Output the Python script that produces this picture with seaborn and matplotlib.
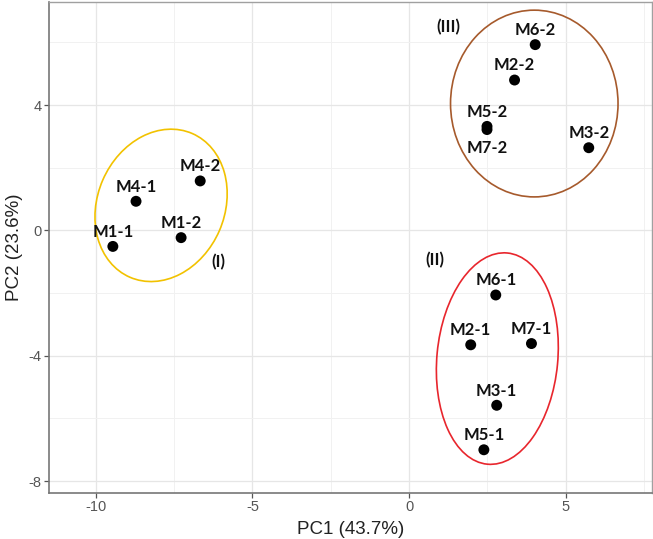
import matplotlib
matplotlib.use("Agg")
import matplotlib.pyplot as plt
from matplotlib.patches import Ellipse
from matplotlib.ticker import MultipleLocator
import seaborn as sns
import pandas as pd

# ---- data ----
samples = ["M1-1", "M4-1", "M1-2", "M4-2",
           "M6-2", "M2-2", "M5-2", "M7-2", "M3-2",
           "M6-1", "M2-1", "M7-1", "M3-1", "M5-1"]
pc1 = [-9.46, -8.72, -7.28, -6.67,
       4.03, 3.37, 2.49, 2.49, 5.74,
       2.77, 1.97, 3.91, 2.80, 2.39]
pc2 = [-0.51, 0.93, -0.23, 1.58,
       5.93, 4.80, 3.32, 3.22, 2.64,
       -2.06, -3.65, -3.61, -5.58, -7.00]
below_labels = ["M7-2"]

group_names = ["(I)", "(II)", "(III)"]
group_label_x = [-6.08, 0.82, 1.27]
group_label_y = [-1.00, -0.95, 6.50]
group_center_x = [-7.92, 2.82, 4.00]
group_center_y = [0.80, -4.09, 4.05]
group_width = [5.00, 6.77, 5.35]
group_height = [4.06, 3.86, 5.96]
group_angle = [66.5, 84.6, 0.0]
group_colors = ["#F2C200", "#E8262D", "#A65A2C"]

xlabel = "PC1 (43.7%)"
ylabel = "PC2 (23.6%)"

df = pd.DataFrame({"sample": samples, "PC1": pc1, "PC2": pc2})

sns.set_theme(style="white")
plt.rcParams["font.family"] = ["Liberation Sans", "DejaVu Sans"]
plt.rcParams["axes.unicode_minus"] = False

fig = plt.figure(figsize=(6.53, 5.39), dpi=100)
ax = fig.add_axes([49.3 / 653, 46.3 / 539, (652 - 49.3) / 653, (492.7 - 1.7) / 539])

ax.xaxis.set_major_locator(MultipleLocator(5))
ax.xaxis.set_minor_locator(MultipleLocator(2.5))
ax.yaxis.set_major_locator(MultipleLocator(4))
ax.yaxis.set_minor_locator(MultipleLocator(2))
ax.grid(which="major", color="#e6e6e6", linewidth=0.9)
ax.grid(which="minor", color="#f1f1f1", linewidth=0.7)
ax.set_axisbelow(True)

sns.scatterplot(data=df, x="PC1", y="PC2", ax=ax, color="black", s=62,
                edgecolor="none", zorder=3, legend=False)

lab_font = ["Lato", "DejaVu Sans"]
for name, x, y in zip(samples, pc1, pc2):
    off = -13.5 if name in below_labels else 10.5
    ax.annotate(name, (x, y), xytext=(0, off), textcoords="offset points",
                ha="center", va="center", fontsize=12, fontweight="bold",
                family=lab_font, color="#111111", zorder=4)

for i, g in enumerate(group_names):
    ax.add_patch(Ellipse((group_center_x[i], group_center_y[i]), group_width[i],
                         group_height[i], angle=group_angle[i], fill=False,
                         edgecolor=group_colors[i], linewidth=1.2, zorder=2))
    ax.text(group_label_x[i], group_label_y[i], g, ha="center", va="center",
            fontsize=12, fontweight="bold", family=lab_font, color="#111111")

ax.set_xlim(-11.49, 7.76)
ax.set_ylim(-8.37, 7.30)

for side in ["top", "right"]:
    ax.spines[side].set_color("#a0a0a0")
    ax.spines[side].set_linewidth(1.0)
for side in ["left", "bottom"]:
    ax.spines[side].set_color("#777777")
    ax.spines[side].set_linewidth(1.2)

ax.tick_params(which="major", direction="out", length=3.5, width=0.9,
               color="#555555", labelsize=10.5, labelcolor="#555555",
               left=True, bottom=True, pad=2)
ax.tick_params(which="minor", length=0)

ax.set_xlabel(xlabel, fontsize=13.5, color="#222222", labelpad=5)
ax.set_ylabel(ylabel, fontsize=13.5, color="#222222", labelpad=4)

fig.savefig("out.png", dpi=100)
